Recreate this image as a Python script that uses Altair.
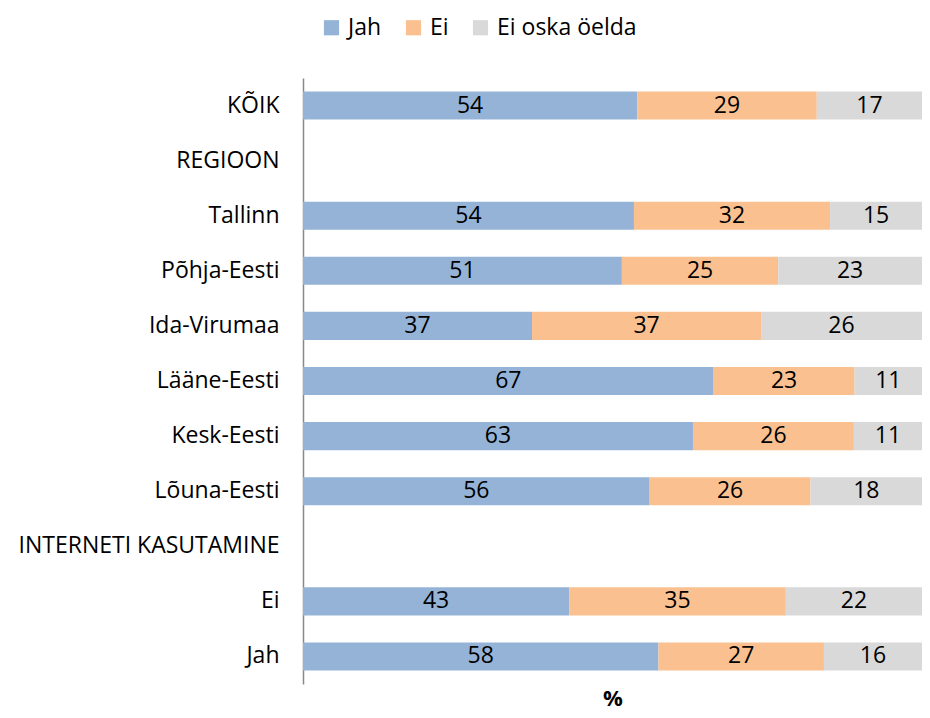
import altair as alt
import pandas as pd

categories = ["KÕIK", "REGIOON", "Tallinn", "Põhja-Eesti", "Ida-Virumaa", "Lääne-Eesti",
              "Kesk-Eesti", "Lõuna-Eesti", "INTERNETI KASUTAMINE", "Ei", "Jah"]
data_cats = ["KÕIK", "Tallinn", "Põhja-Eesti", "Ida-Virumaa", "Lääne-Eesti",
             "Kesk-Eesti", "Lõuna-Eesti", "Ei", "Jah"]
jah = [54, 54, 51, 37, 67, 63, 56, 43, 58]
ei = [29, 32, 25, 37, 23, 26, 26, 35, 27]
eos = [17, 15, 23, 26, 11, 11, 18, 22, 16]
series = ["Jah", "Ei", "Ei oska öelda"]
colors = ["#95B3D7", "#FAC090", "#D9D9D9"]

rows = []
for c, a, b, d in zip(data_cats, jah, ei, eos):
    for i, (s, v) in enumerate(zip(series, [a, b, d])):
        rows.append({"cat": c, "series": s, "value": v, "order": i})
df = pd.DataFrame(rows)

FONT = "Open Sans"
FS = 23

base = alt.Chart(df).transform_stack(
    stack="value", groupby=["cat"], as_=["x0", "x1"],
    sort=[alt.SortField("order", order="ascending")], offset="normalize"
).transform_calculate(mid="(datum.x0 + datum.x1) / 2")

yenc = alt.Y("cat:N", scale=alt.Scale(domain=categories, paddingInner=0.49, paddingOuter=0.245),
             axis=alt.Axis(title=None, ticks=False, labelFontSize=FS, labelFont=FONT,
                           labelColor="#000", labelPadding=24, domainColor="#888",
                           domainWidth=1.5, labelLimit=400))

bars = base.mark_bar().encode(
    x=alt.X("x0:Q", scale=alt.Scale(domain=[0, 1], nice=False),
            axis=alt.Axis(title="%", labels=False, ticks=False, domain=False, grid=False,
                          titleFontSize=FS - 1, titleFont=FONT, titleFontWeight="bold",
                          titleColor="#000", titlePadding=4)),
    x2="x1:Q",
    y=yenc,
    color=alt.Color("series:N", scale=alt.Scale(domain=series, range=colors),
                    legend=alt.Legend(title=None, orient="none", direction="horizontal",
                                      legendX=17, legendY=-62, symbolType="square",
                                      symbolSize=230, symbolStrokeWidth=0,
                                      labelFontSize=FS, labelFont=FONT, labelColor="#000",
                                      columnPadding=20, labelOffset=5)),
    order=alt.Order("order:Q"),
)

labels = base.mark_text(fontSize=FS, font=FONT, color="#000", baseline="middle").encode(
    x=alt.X("mid:Q"),
    y=alt.Y("cat:N", scale=alt.Scale(domain=categories)),
    text=alt.Text("value:Q"),
)

chart = alt.layer(bars, labels).properties(
    width=619, height=606,
    padding={"left": 295, "top": 70, "right": 0, "bottom": 26},
    autosize=alt.AutoSizeParams(type="none"),
).configure_view(stroke=None)

chart.save("out.html", embed_options={"renderer": "svg", "actions": False})
